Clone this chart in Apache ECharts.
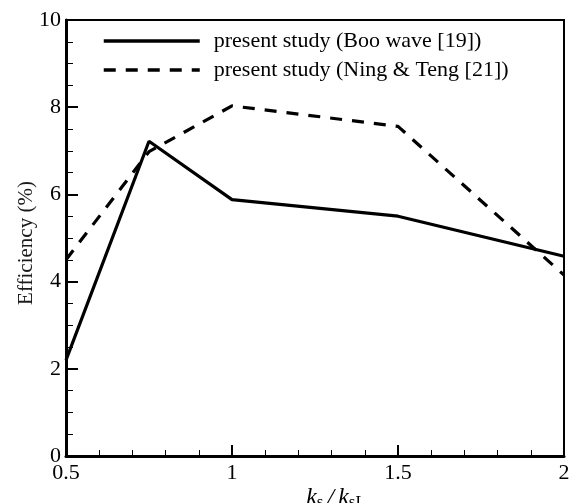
<!DOCTYPE html>
<html>
<head>
<meta charset="utf-8">
<script src="https://cdn.jsdelivr.net/npm/echarts@6/dist/echarts.min.js"></script>
<style>
  html, body { margin: 0; padding: 0; background: #fff; }
  #chart { width: 571px; height: 503px; }
</style>
</head>
<body>
<div id="chart"></div>
<script>
// Efficiency versus wall stiffness ratio for two wave models
const ratios = [0.5, 0.75, 1, 1.5, 2];
const booWave = [2.2, 7.22, 5.88, 5.5, 4.58];
const ningTeng = [4.5, 6.98, 8.03, 7.56, 4.15];
const seriesNames = ['present study (Boo wave [19])', 'present study (Ning & Teng [21])'];

const serif = '"Liberation Serif", "DejaVu Serif", serif';

const toPairs = (xs, ys) => xs.map((x, i) => [x, ys[i]]);

const chart = echarts.init(document.getElementById('chart'), null, { renderer: 'canvas' });

chart.setOption({
  animation: false,
  backgroundColor: '#ffffff',
  grid: {
    left: 66, right: 7, top: 20, bottom: 47,
    outerBoundsMode: 'none',
    containLabel: false,
    show: true, borderColor: '#000', borderWidth: 2, backgroundColor: 'transparent'
  },
  legend: {
    orient: 'vertical',
    left: 97,
    top: 25,
    itemWidth: 96,
    itemHeight: 2,
    itemGap: 7,
    data: seriesNames,
    textStyle: {
      fontFamily: serif, fontSize: 22, color: '#000',
      lineHeight: 22, padding: [0, 0, 0, 9]
    },
    lineStyle: { width: 3.5 }
  },
  xAxis: {
    type: 'value',
    min: 0.5, max: 2, interval: 0.5,
    name: '{i|k}{s|s}{n|/}{i|k}{s|sL}',
    nameLocation: 'middle',
    nameGap: 28,
    nameMoveOverlap: false,
    nameTextStyle: {
      padding: [0, 0, 0, 42],
      rich: {
        i: { fontFamily: serif, fontStyle: 'italic', fontSize: 24, color: '#000' },
        n: { fontFamily: serif, fontStyle: 'italic', fontSize: 24, color: '#000', padding: [0, 4, 0, 4] },
        s: { fontFamily: serif, fontSize: 17, color: '#000', padding: [10, 0, 0, 0] }
      }
    },
    axisLine: { show: true, onZero: false, lineStyle: { color: '#000', width: 3 } },
    axisTick: { show: true, inside: true, length: 11, lineStyle: { color: '#000', width: 2 } },
    minorTick: { show: true, splitNumber: 5, length: 6, lineStyle: { color: '#000', width: 1 } },
    axisLabel: {
      fontFamily: serif, fontSize: 22, color: '#000', margin: 6,
      formatter: v => String(v)
    },
    splitLine: { show: false }
  },
  yAxis: {
    type: 'value',
    min: 0, max: 10, interval: 2,
    name: 'Efficiency (%)',
    nameLocation: 'middle',
    nameGap: 29,
    nameMoveOverlap: false,
    nameTextStyle: { fontFamily: serif, fontSize: 21, color: '#1a1a1a', padding: [0, 10, 0, 0] },
    axisLine: { show: true, lineStyle: { color: '#000', width: 3 } },
    axisTick: { show: true, inside: true, length: 12, lineStyle: { color: '#000', width: 2 } },
    minorTick: { show: true, splitNumber: 4, length: 7, lineStyle: { color: '#000', width: 1 } },
    axisLabel: { fontFamily: serif, fontSize: 22, color: '#000', margin: 5 },
    splitLine: { show: false }
  },
  series: [
    {
      name: seriesNames[0],
      type: 'line',
      data: toPairs(ratios, booWave),
      symbol: 'none',
      lineStyle: { color: '#000', width: 3.2, type: 'solid' },
      itemStyle: { color: '#000' }
    },
    {
      name: seriesNames[1],
      type: 'line',
      data: toPairs(ratios, ningTeng),
      symbol: 'none',
      lineStyle: { color: '#000', width: 3.2, type: [12, 10] },
      itemStyle: { color: '#000' }
    }
  ]
});
</script>
</body>
</html>
